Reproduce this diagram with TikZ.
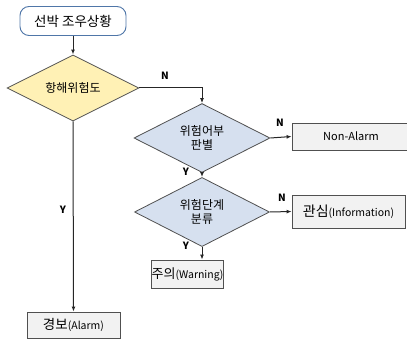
\documentclass[tikz,border=0pt]{standalone}
\usepackage{fontspec}
\setmainfont{Noto Sans CJK KR}
\usetikzlibrary{shapes.geometric,arrows.meta}
\definecolor{startb}{HTML}{4F76A8}
\definecolor{yel}{HTML}{FFF1B5}
\definecolor{blu}{HTML}{D6E0EF}
\definecolor{boxf}{HTML}{F2F2F2}
\definecolor{edge}{HTML}{505050}
\tikzset{
  startbox/.style={draw=startb,line width=0.9pt,fill=white,rounded corners=9pt,minimum width=106pt,minimum height=29pt,inner sep=0pt,font=\fontsize{13.5}{15}\selectfont},
  dia/.style={diamond,draw=edge,line width=0.8pt,inner sep=0pt,align=center,font=\fontsize{12}{14}\selectfont},
  outbox/.style={draw=edge,line width=0.8pt,fill=boxf,inner sep=0pt,font=\fontsize{10.5}{13}\selectfont},
  kor/.style={font=\fontsize{13.5}{16}\selectfont},
  conn/.style={line width=1pt,draw=black!85,-{Latex[length=5pt,width=4pt]}},
  lbl/.style={font=\fontsize{10}{11}\selectfont\bfseries,inner sep=0pt}
}
\begin{document}
\begin{tikzpicture}[x=1pt,y=-1pt]
\useasboundingbox (0,0) rectangle (407,339);
\node[startbox] (start) at (73,21) {선박 조우상황};
\node[dia,fill=yel,minimum width=132pt,minimum height=50pt] (d1) at (73,88) {항해위험도};
\node[dia,fill=blu,minimum width=136pt,minimum height=50pt] (d2) at (202,138) {위험어부\\판별};
\node[dia,fill=blu,minimum width=135pt,minimum height=50pt] (d3) at (202,212) {위험단계\\분류};
\node[outbox,font=\fontsize{11}{13}\selectfont,minimum width=118pt,minimum height=27pt] (nonal) at (351,136.5) {Non-Alarm};
\node[outbox,minimum width=113pt,minimum height=33pt] (info) at (348.5,211.5) {{\fontsize{14}{16}\selectfont 관심}(Information)};
\node[outbox,minimum width=69pt,minimum height=28pt] (warn) at (187.5,274) {{\fontsize{13}{16}\selectfont 주의}(Warning)};
\node[outbox,minimum width=93pt,minimum height=26pt] (alarm) at (73.5,325) {{\fontsize{13.5}{16}\selectfont 경보}(Alarm)};
\draw[conn] (start.south) -- (d1.north);
\draw[conn] (d1.east) -| (d2.north);
\draw[conn] (d2.east) -- (nonal.west);
\draw[conn] (d2.south) -- (d3.north);
\draw[conn] (d3.east) -- (info.west);
\draw[conn] (d3.south) -- (d3.south |- warn.north);
\draw[conn] (d1.south) -- (alarm.north);
\node[lbl] (n1) at (165,76) {N};
\node[lbl] (n2) at (280,123) {N};
\node[lbl] (y2) at (186,172) {Y};
\node[lbl] (n3) at (282,198) {N};
\node[lbl] (y3) at (186,246) {Y};
\node[lbl] (y1) at (63,210) {Y};
\end{tikzpicture}
\end{document}
